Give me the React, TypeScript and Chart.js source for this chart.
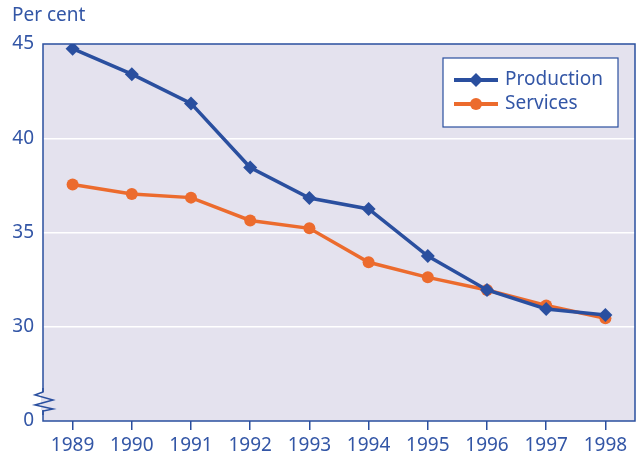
import React, { useEffect, useRef } from "react";
import { Chart, registerables } from "chart.js";

Chart.register(...registerables);

const years = ["1989", "1990", "1991", "1992", "1993", "1994", "1995", "1996", "1997", "1998"];
const production = [44.75, 43.4, 41.85, 38.45, 36.83, 36.25, 33.75, 31.95, 30.94, 30.62];
const services = [37.55, 37.04, 36.85, 35.64, 35.22, 33.42, 32.62, 31.95, 31.13, 30.45];
const yTickLabels: Record<number, string> = { 25: "0", 30: "30", 35: "35", 40: "40", 45: "45" };
const yAxisTitle = "Per cent";
const seriesNames = ["Production", "Services"];

const BLUE = "#2a4f9f";
const ORANGE = "#ec6b2d";
const TEXT = "#3356a6";
const BG = "#e4e2ee";
const FONT = "'Noto Sans', sans-serif";

const decorPlugin = {
  id: "decor",
  beforeDraw(chart: any) {
    const { ctx, chartArea: a } = chart;
    ctx.save();
    ctx.fillStyle = BG;
    ctx.fillRect(a.left, a.top, a.right - a.left, a.bottom - a.top);
    ctx.restore();
  },
  afterDatasetsDraw(chart: any) {
    const { ctx, chartArea: a } = chart;
    ctx.save();
    ctx.strokeStyle = BLUE;
    ctx.lineWidth = 1.5;
    ctx.strokeRect(a.left, a.top, a.right - a.left, a.bottom - a.top);
    const x = a.left;
    const yb = a.bottom - 20;
    ctx.fillStyle = BG;
    ctx.fillRect(x - 2, yb - 9, 4, 18);
    ctx.beginPath();
    ctx.lineWidth = 1.5;
    ctx.moveTo(x, yb - 13);
    ctx.lineTo(x, yb - 9);
    ctx.lineTo(x - 8, yb - 6);
    ctx.lineTo(x + 10, yb - 1);
    ctx.lineTo(x - 8, yb + 4);
    ctx.lineTo(x + 10, yb + 8);
    ctx.lineTo(x, yb + 10);
    ctx.lineTo(x, yb + 14);
    ctx.stroke();
    ctx.fillStyle = TEXT;
    ctx.font = `19px ${FONT}`;
    ctx.textAlign = "left";
    ctx.textBaseline = "middle";
    ctx.fillText(yAxisTitle, 12, 16);
    const lx = 443, ly = 58, lw = 175, lh = 69;
    ctx.fillStyle = "#ffffff";
    ctx.fillRect(lx, ly, lw, lh);
    ctx.strokeStyle = BLUE;
    ctx.lineWidth = 1.2;
    ctx.strokeRect(lx, ly, lw, lh);
    const items = [
      { name: seriesNames[0], color: BLUE, style: "rectRot", y: ly + 22 },
      { name: seriesNames[1], color: ORANGE, style: "circle", y: ly + 46 },
    ];
    items.forEach((it) => {
      ctx.strokeStyle = it.color;
      ctx.lineWidth = 4;
      ctx.beginPath();
      ctx.moveTo(lx + 11, it.y);
      ctx.lineTo(lx + 55, it.y);
      ctx.stroke();
      ctx.fillStyle = it.color;
      const cx = lx + 33;
      ctx.beginPath();
      if (it.style === "circle") {
        ctx.arc(cx, it.y, 6, 0, Math.PI * 2);
      } else {
        ctx.moveTo(cx, it.y - 7);
        ctx.lineTo(cx + 7, it.y);
        ctx.lineTo(cx, it.y + 7);
        ctx.lineTo(cx - 7, it.y);
        ctx.closePath();
      }
      ctx.fill();
      ctx.fillStyle = TEXT;
      ctx.font = `19px ${FONT}`;
      ctx.textBaseline = "middle";
      ctx.fillText(it.name, lx + 62, it.y);
    });
    ctx.restore();
  },
};

export default function App() {
  const ref = useRef<HTMLCanvasElement>(null);
  useEffect(() => {
    if (!ref.current) return;
    const chart = new Chart(ref.current, {
      type: "line",
      data: {
        labels: years,
        datasets: [
          {
            label: seriesNames[0],
            data: production,
            borderColor: BLUE,
            backgroundColor: BLUE,
            borderWidth: 3.5,
            pointStyle: "rectRot",
            pointRadius: 7,
            pointBorderWidth: 0,
            tension: 0,
          },
          {
            label: seriesNames[1],
            data: services,
            borderColor: ORANGE,
            backgroundColor: ORANGE,
            borderWidth: 3.5,
            pointStyle: "circle",
            pointRadius: 6,
            pointBorderWidth: 0,
            tension: 0,
          },
        ],
      },
      options: {
        animation: false,
        responsive: false,
        layout: { padding: { top: 44, right: 3, left: 0, bottom: 0 } },
        plugins: { legend: { display: false }, tooltip: { enabled: false } },
        scales: {
          x: {
            offset: true,
            grid: {
              offset: false,
              drawOnChartArea: false,
              drawTicks: true,
              tickLength: 9,
              color: BLUE,
              lineWidth: 1.5,
            },
            border: { display: false },
            ticks: { color: TEXT, font: { family: FONT, size: 19 }, padding: 4, maxRotation: 0 },
            afterFit(scale: any) {
              scale.height = 41;
              scale.paddingLeft = 0;
              scale.paddingRight = 0;
            },
          },
          y: {
            min: 25,
            max: 45,
            grid: {
              drawTicks: false,
              color: (c: any) =>
                c.tick && c.tick.value > 25 && c.tick.value < 45 ? "#ffffff" : "rgba(0,0,0,0)",
              lineWidth: 1.5,
            },
            border: { display: false },
            ticks: {
              stepSize: 5,
              color: TEXT,
              font: { family: FONT, size: 19 },
              padding: 9,
              callback: (v: any) => yTickLabels[v as number] ?? "",
            },
            afterFit(scale: any) {
              scale.width = 43;
              scale.paddingTop = 0;
              scale.paddingBottom = 0;
            },
          },
        },
      },
      plugins: [decorPlugin],
    });
    return () => chart.destroy();
  }, []);
  return (
    <div style={{ position: "absolute", left: 0, top: 0, width: 642, height: 462, background: "#fff" }}>
      <canvas ref={ref} width={642} height={462} />
    </div>
  );
}
